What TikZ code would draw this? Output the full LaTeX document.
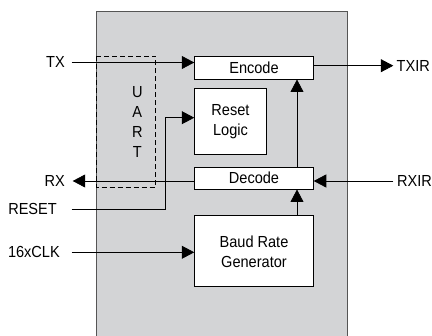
\documentclass[tikz,border=0pt]{standalone}
\usepackage{fontspec}
\setmainfont{Liberation Sans}[FakeStretch=0.91]
\usetikzlibrary{arrows.meta,calc}
\definecolor{chipgray}{RGB}{211,212,214}
\definecolor{chipedge}{RGB}{85,85,85}
\tikzset{
  txt/.style={font=\fontsize{16}{20}\selectfont, inner sep=0pt},
  blk/.style={draw=black, line width=0.9pt, fill=white, txt, align=center},
  wire/.style={line width=0.75pt},
  arr/.style={wire, -{Triangle[length=12.5pt,width=13pt]}},
}
\begin{document}
\begin{tikzpicture}[x=1pt,y=-1pt]
\useasboundingbox (0,0) rectangle (432,336);
% chip
\fill[chipgray] (96.3,11.7) rectangle (347,336);
\draw[chipedge, line width=0.9pt] (96.3,336) -- (96.3,11.7) -- (347,11.7) -- (347,336);
\coordinate (chip) at (221.6,11.7);
% UART dashed
\draw[dashed, dash pattern=on 5pt off 3pt, line width=0.75pt] (96.3,56.3) rectangle (155.7,187);
\node[txt, align=center] (uart) at (137.3,122) {\fontsize{16}{19.7}\selectfont U\\A\\R\\T};
% blocks
\node[blk, minimum width=118.6pt, minimum height=22.7pt] (enc) at (254,67.7) {Encode};
\node[blk, minimum width=71.6pt, minimum height=65.6pt] (rst) at (230.5,121.5) {Reset\\Logic};
\node[blk, minimum width=118.6pt, minimum height=21.7pt] (dec) at (254,178.2) {Decode};
\node[blk, minimum width=118.6pt, minimum height=71.3pt] (baud) at (254,251.3) {Baud Rate\\Generator};
% labels
\node[txt, anchor=east] (tx) at (65,62.5) {TX};
\node[txt, anchor=east] (rx) at (65,181) {RX};
\node[txt, anchor=east] (reset) at (57,209) {RESET};
\node[txt, anchor=east] (clk) at (60,252.3) {16xCLK};
\node[txt, anchor=west] (txir) at (396.5,65.7) {TXIR};
\node[txt, anchor=west] (rxir) at (397,181) {RXIR};
% wire endpoints
\coordinate (txs) at (71.7,62.5);
\coordinate (rxe) at (72.7,181);
\coordinate (rss) at (71.7,209);
\coordinate (rsb) at (165.7,209);
\coordinate (rst2) at (165.7,117.7);
\coordinate (clks) at (71.7,252.3);
\coordinate (txire) at (393.3,65.7);
\coordinate (rxirs) at (393.3,181);
% connectors
\draw[arr] (txs) -- (txs -| enc.west);
\draw[arr] (dec.west |- rxe) -- (rxe);
\draw[arr] (rss) -- (rsb) -- (rst2) -- (rst2 -| rst.west);
\draw[arr] (clks) -- (clks -| baud.west);
\draw[arr] (enc.east |- txire) -- (txire);
\draw[arr] (rxirs) -- (rxirs -| dec.east);
\draw[arr] (dec.north -| 297,0) -- (enc.south -| 297,0);
\draw[arr] (baud.north -| 297,0) -- (dec.south -| 297,0);
\end{tikzpicture}
\end{document}
